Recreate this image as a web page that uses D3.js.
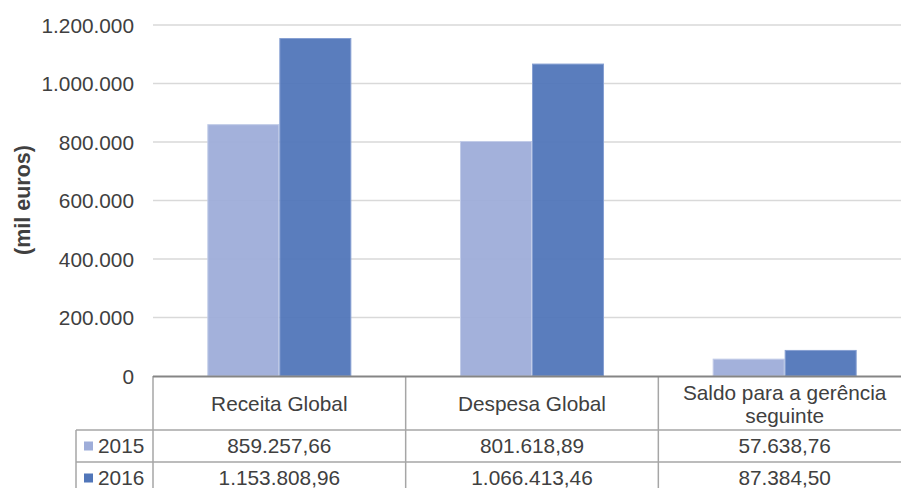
<!DOCTYPE html>
<html><head><meta charset="utf-8">
<script src="https://cdn.jsdelivr.net/npm/d3@7"></script>
<style>body{margin:0;background:#fff;} svg{display:block;font-family:"Liberation Sans",Arial,sans-serif;}</style>
</head><body>
<svg id="c" width="901" height="488"></svg>
<script>
const categories = [["Receita Global"], ["Despesa Global"], ["Saldo para a gerência", "seguinte"]];
const seriesNames = ["2015", "2016"];
const values2015 = [859257.66, 801618.89, 57638.76];
const values2016 = [1153808.96, 1066413.46, 87384.50];
const tableLabels2015 = ["859.257,66", "801.618,89", "57.638,76"];
const tableLabels2016 = ["1.153.808,96", "1.066.413,46", "87.384,50"];
const yTicks = [0, 200000, 400000, 600000, 800000, 1000000, 1200000];
const yTickLabels = ["0", "200.000", "400.000", "600.000", "800.000", "1.000.000", "1.200.000"];
const colors = ["#9EADD9", "#5176B9"];
const strokes = ["#C2CCE8", "#87A0D2"];

(function(){
const svg = d3.select("#c");
const pLeft = 153, pRight = 911, pTop = 25, pBottom = 376;
const y = d3.scaleLinear().domain([0, 1200000]).range([pBottom, pTop]);
const x0 = d3.scaleBand().domain(d3.range(categories.length)).range([pLeft, pRight]).paddingInner(0).paddingOuter(0);
const x1 = d3.scaleBand().domain(seriesNames).range([x0.bandwidth()*0.215, x0.bandwidth()*0.785]);
const txt = "#404040", lineCol = "#A6A6A6";
const fs = 20.8;

// grid
svg.append("g").selectAll("line").data(yTicks.slice(1)).join("line")
  .attr("x1", pLeft).attr("x2", pRight).attr("y1", d => y(d)).attr("y2", d => y(d))
  .attr("stroke", "#D9D9D9").attr("stroke-width", 1.3);

// y axis labels
const yAxis = d3.axisLeft(y).tickValues(yTicks).tickFormat((d, i) => yTickLabels[i]).tickSize(0).tickPadding(0);
const ga = svg.append("g").attr("transform", `translate(134,0)`).call(yAxis);
ga.select(".domain").remove();
ga.selectAll("text").attr("font-size", fs).attr("fill", txt).attr("font-family", "Liberation Sans, Arial, sans-serif").attr("dy", "0.35em");

// bars
const series = [values2015, values2016];
series.forEach((vals, s) => {
  svg.append("g").selectAll("rect").data(vals).join("rect")
    .attr("x", (d, i) => x0(i) + x1(seriesNames[s]) + 0.5)
    .attr("width", x1.bandwidth() - 1)
    .attr("y", d => y(d))
    .attr("height", d => pBottom - y(d))
    .attr("fill", colors[s]).attr("fill-opacity", 0.95)
    .attr("stroke", strokes[s]).attr("stroke-width", 1);
});

// y title
svg.append("text").attr("transform", "translate(22,200) rotate(-90)")
  .attr("text-anchor", "middle").attr("dy", "0.35em")
  .attr("font-size", 21.5).attr("font-weight", "bold").attr("fill", txt).text("(mil euros)");

// table
const rowTop = [376, 430, 462, 494];
const tg = svg.append("g");
x0.domain().forEach(i => {
  tg.append("line").attr("x1", x0(i)).attr("x2", x0(i)).attr("y1", 376).attr("y2", 494).attr("stroke", lineCol).attr("stroke-width", 1.5);
});
tg.append("line").attr("x1", 76).attr("x2", 76).attr("y1", 430).attr("y2", 494).attr("stroke", lineCol).attr("stroke-width", 1.5);
[430, 462].forEach(yy => tg.append("line").attr("x1", 76).attr("x2", pRight).attr("y1", yy).attr("y2", yy).attr("stroke", lineCol).attr("stroke-width", 1.5));
tg.append("line").attr("x1", pLeft).attr("x2", pRight).attr("y1", 376.5).attr("y2", 376.5).attr("stroke", "#858585").attr("stroke-width", 2);

categories.forEach((lines, i) => {
  const cx = x0(i) + x0.bandwidth()/2;
  const n = lines.length;
  lines.forEach((l, k) => {
    tg.append("text").attr("x", cx).attr("y", 404 + (k - (n-1)/2) * 23.5).attr("dy", "0.35em")
      .attr("text-anchor", "middle").attr("font-size", fs).attr("fill", txt).text(l);
  });
});
[tableLabels2015, tableLabels2016].forEach((labs, r) => {
  const cy = (rowTop[r+1] + rowTop[r+2]) / 2;
  labs.forEach((l, i) => {
    tg.append("text").attr("x", x0(i) + x0.bandwidth()/2).attr("y", cy).attr("dy", "0.35em")
      .attr("text-anchor", "middle").attr("font-size", fs).attr("fill", txt).text(l);
  });
  tg.append("rect").attr("x", 84).attr("y", cy - 4.5).attr("width", 9).attr("height", 9).attr("fill", colors[r]);
  tg.append("text").attr("x", 98).attr("y", cy).attr("dy", "0.35em")
    .attr("font-size", fs).attr("fill", txt).text(seriesNames[r]);
});
})();
</script>
</body></html>
